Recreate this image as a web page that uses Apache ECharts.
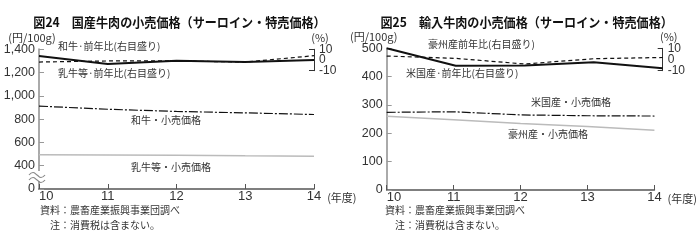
<!DOCTYPE html>
<html><head><meta charset="utf-8">
<script src="https://cdn.jsdelivr.net/npm/echarts@6/dist/echarts.min.js"></script>
<style>html,body{margin:0;padding:0;background:#fff}#c{width:700px;height:240px}</style>
</head><body><div id="c"></div>
<script>
const years = ['10','11','12','13','14'];
// 図24 国産牛肉
const wagyuPrice = [912, 885, 866, 854, 840];
const nyugyuPrice = [495, 492, 490, 485, 482];
const wagyuYoY = [3.7, -3.7, -0.7, -1.9, 0];
const nyugyuYoY = [-1.9, -0.9, -0.9, -1.9, 4];
// 図25 輸入牛肉
const usPrice = [274, 276, 265, 262, 261];
const ausPrice = [260, 248, 235, 224, 211];
const ausYoY = [10, -5.6, -5.3, -2.5, -7.8];
const usYoY = [3.1, 1, -4, 0.7, 1.8];

const leftTicks = [200, 1400, 200]; // min, max, interval (200 shown as 0, axis broken)
const rightTicks = [0, 500, 100];
const pctTicks = [-10, 10, 10];
const pctMid = [0];

const FONT = 'Liberation Sans, Arial, sans-serif';
const JP = '"Noto Sans CJK JP", sans-serif';

const chart = echarts.init(document.getElementById('c'), null, {renderer:'canvas'});

function xAxis(gridIndex, show) {
  return {
    type:'category', gridIndex, data: years, boundaryGap:false, show,
    axisLine:{lineStyle:{color:'#555', width:1.5}},
    axisTick:{inside:true, length:5, lineStyle:{color:'#555'}},
    axisLabel:{color:'#333', fontSize:13, fontFamily:FONT, margin:1, alignMinLabel:'left'},
    name: show ? '(年度)' : '', nameLocation:'end', nameGap:4,
    nameTextStyle:{color:'#333', fontSize:11, fontFamily:JP, verticalAlign:'top', padding:[3,0,0,0]},
    splitLine:{show:false}
  };
}
function mainY(gridIndex, t, fmt, namePad) {
  return {
    type:'value', gridIndex, min:t[0], max:t[1], interval:t[2],
    axisLine:{show:true, lineStyle:{color:'#aaa', width:2}},
    axisTick:{show:true, inside:true, length:5, lineStyle:{color:'#999'}},
    axisLabel:{color:'#333', fontSize:12.5, fontFamily:FONT, margin:4, formatter:fmt, hideOverlap:false},
    splitLine:{show:false},
    name:'(円/100g)', nameLocation:'end', nameGap:5,
    nameTextStyle:{color:'#333', fontSize:11, fontFamily:JP, padding:namePad}
  };
}
function pctY(gridIndex) {
  return {
    type:'value', gridIndex, position:'right', min:pctTicks[0], max:pctTicks[1], interval:pctTicks[2],
    axisLine:{show:true, lineStyle:{color:'#333', width:1}},
    axisTick:{show:true, inside:true, length:5, lineStyle:{color:'#333'}},
    axisLabel:{show:true, color:'#333', fontSize:12, lineHeight:9, fontFamily:FONT, margin:5,
      hideOverlap:false, showMinLabel:true, showMaxLabel:true},
    splitLine:{show:false},
    name:'(%)', nameLocation:'end', nameGap:4,
    nameTextStyle:{color:'#333', fontSize:11, fontFamily:JP, padding:[0,0,0,12]}
  };
}
function pctMidY(gridIndex) {
  return {
    type:'value', gridIndex, position:'right', min:pctTicks[0], max:pctTicks[1], interval:pctTicks[2],
    axisLine:{show:false}, axisTick:{show:false}, splitLine:{show:false},
    axisLabel:{show:true, color:'#333', fontSize:12, lineHeight:9, fontFamily:FONT, margin:5,
      hideOverlap:false, customValues:pctMid}
  };
}
const leftFmt = v => v === 200 ? '0' : v.toLocaleString('en-US');

function line(name, x, y, data, color, width, type) {
  return {name, type:'line', xAxisIndex:x, yAxisIndex:y, data, symbol:'none', silent:true,
    lineStyle:{color, width, type}, z: 3};
}
const dashDot = [9,2,2,2];

function label(text, x, y) {
  return {type:'text', x, y, silent:true,
    style:{text, fill:'#333', font:'10px "Noto Sans CJK JP", sans-serif', textVerticalAlign:'middle'}};
}
function note(text, x, y) {
  return {type:'text', x, y, silent:true,
    style:{text, fill:'#333', font:'10px "Noto Sans CJK JP", sans-serif', textVerticalAlign:'middle'}};
}
function title(text, x) {
  return {type:'text', x, y:22.5, scaleX:0.93, silent:true,
    style:{text, fill:'#111', font:'bold 13px "Noto Sans CJK JP", sans-serif', textAlign:'center', textVerticalAlign:'middle'}};
}

chart.setOption({
  animation:false,
  grid:[
    {left:39, top:49.3, width:275, height:139.7},
    {left:39, top:49.3, width:275, height:21.4},
    {left:386.7, top:48.3, width:276, height:141.7},
    {left:386.7, top:48.3, width:276, height:22.4}
  ],
  xAxis:[xAxis(0,true), xAxis(1,false), xAxis(2,true), xAxis(3,false)],
  yAxis:[mainY(0,leftTicks,leftFmt,[0,14,0,0]), pctY(1), mainY(2,rightTicks,v=>String(v),[0,26,0,0]), pctY(3),
         pctMidY(1), pctMidY(3)],
  series:[
    line('和牛・小売価格',0,0,wagyuPrice,'#111',1.2,dashDot),
    line('乳牛等・小売価格',0,0,nyugyuPrice,'#bbb',1.5,'solid'),
    line('和牛・前年比',1,1,wagyuYoY,'#111',2,'solid'),
    line('乳牛等・前年比',1,1,nyugyuYoY,'#111',1.2,[4,3]),
    line('米国産・小売価格',2,2,usPrice,'#111',1.2,dashDot),
    line('豪州産・小売価格',2,2,ausPrice,'#bbb',1.5,'solid'),
    line('豪州産前年比',3,3,ausYoY,'#111',2,'solid'),
    line('米国産・前年比',3,3,usYoY,'#111',1.2,[4,3])
  ],
  graphic:[
    title('図24　国産牛肉の小売価格（サーロイン・特売価格）', 179.5),
    title('図25　輸入牛肉の小売価格（サーロイン・特売価格）', 526.7),
    label('和牛·前年比(右目盛り)', 58, 46),
    label('乳牛等·前年比(右目盛り)', 58, 73),
    label('和牛・小売価格', 131, 120),
    label('乳牛等・小売価格', 131, 167),
    label('豪州産前年比(右目盛り)', 428, 44),
    label('米国産·前年比(右目盛り)', 406, 73),
    label('米国産・小売価格', 531, 102),
    label('豪州産・小売価格', 508, 134),
    note('資料：農畜産業振興事業団調べ', 40, 210),
    note('注：消費税は含まない。', 50, 225),
    note('資料：農畜産業振興事業団調べ', 385, 210),
    note('注：消費税は含まない。', 395, 225),
    {type:'rect', shape:{x:35, y:171, width:8, height:10}, style:{fill:'#fff'}, silent:true, z:10},
    {type:'polyline', silent:true, z:11,
      shape:{points:[[29,175],[33,172.5],[37,175],[41,177.5],[45,175]], smooth:0.5},
      style:{fill:null, stroke:'#888', lineWidth:1.2}},
    {type:'polyline', silent:true, z:11,
      shape:{points:[[29,180],[33,177.5],[37,180],[41,182.5],[45,180]], smooth:0.5},
      style:{fill:null, stroke:'#888', lineWidth:1.2}}
  ]
});
</script></body></html>
